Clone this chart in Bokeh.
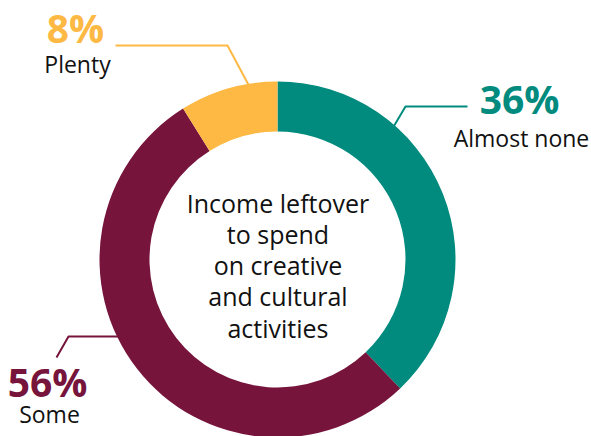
import math
from bokeh.plotting import figure
from bokeh.models import Range1d, ColumnDataSource
from bokeh.core.properties import value
from bokeh.embed import file_html
from bokeh.resources import INLINE

# ---- data ----
categories = ["Almost none", "Some", "Plenty"]
shares = [37.9, 53.2, 8.9]          # wedge sizes as drawn (clockwise from top)
pct_labels = ["36%", "56%", "8%"]
colors = ["#008B7E", "#76143C", "#FDB944"]
center_title = ["Income leftover", "to spend", "on creative", "and cultural", "activities"]

W, H = 591, 436
FONT = "Open Sans"
PCT_FS, LBL_FS, TTL_FS = 39, 23, 25


def Y(y_img):
    return H - y_img


def base_y(b, fs):
    # place a text's alphabetic baseline at image row b
    return Y(b - 0.39 * fs)


p = figure(width=W, height=H, output_backend="svg", toolbar_location=None,
           x_range=Range1d(0, W), y_range=Range1d(0, H), min_border=0)
p.axis.visible = False
p.grid.visible = False
p.outline_line_color = None
p.background_fill_color = "white"
p.border_fill_color = "white"

cx, cy = 277, Y(259)
r_out, r_in = 178, 128

# leader lines (drawn under wedges)
leaders = {
    "Plenty": ([115, 227, 250], [45, 45, 88]),
    "Almost none": ([467, 405, 392], [106, 106, 128]),
    "Some": ([56, 68, 125], [357, 336, 336]),
}
for cat, col in zip(categories, colors):
    xs, ys = leaders[cat]
    p.line(xs, [Y(v) for v in ys], line_color=col, line_width=2)

# wedges
total = sum(shares)
start_cw = 0.0
starts, ends = [], []
for s in shares:
    end_cw = start_cw + s / total * 2 * math.pi
    starts.append(math.pi / 2 - end_cw)
    ends.append(math.pi / 2 - start_cw)
    start_cw = end_cw
src = ColumnDataSource(dict(start=starts, end=ends, color=colors))
p.annular_wedge(x=cx, y=cy, inner_radius=r_in, outer_radius=r_out,
                start_angle="start", end_angle="end", fill_color="color",
                line_color=None, source=src)

# labels: (center x, percent baseline, category baseline)
label_pos = {
    "Almost none": (519, 113, 146),
    "Some": (47, 396, 422),
    "Plenty": (75, 42, 72),
}
for cat, pct, col in zip(categories, pct_labels, colors):
    x, yp, yc = label_pos[cat]
    p.text([x], [base_y(yp, PCT_FS)], text=[pct], text_font=value(FONT),
           text_font_style="bold", text_font_size=f"{PCT_FS}px", text_color=col,
           text_align="center", text_baseline="alphabetic")
    p.text([x + 2], [base_y(yc, LBL_FS)], text=[cat], text_font=value(FONT),
           text_font_size=f"{LBL_FS}px", text_color="#111111", text_align="center",
           text_baseline="alphabetic")

# center title
base = [212, 243, 274, 305, 337]
p.text([277.5] * len(center_title), [base_y(b, TTL_FS) for b in base],
       text=center_title, text_font=value(FONT), text_font_size=f"{TTL_FS}px",
       text_color="#111111", text_align="center", text_baseline="alphabetic")

open("out.html", "w").write(file_html(p, INLINE))
